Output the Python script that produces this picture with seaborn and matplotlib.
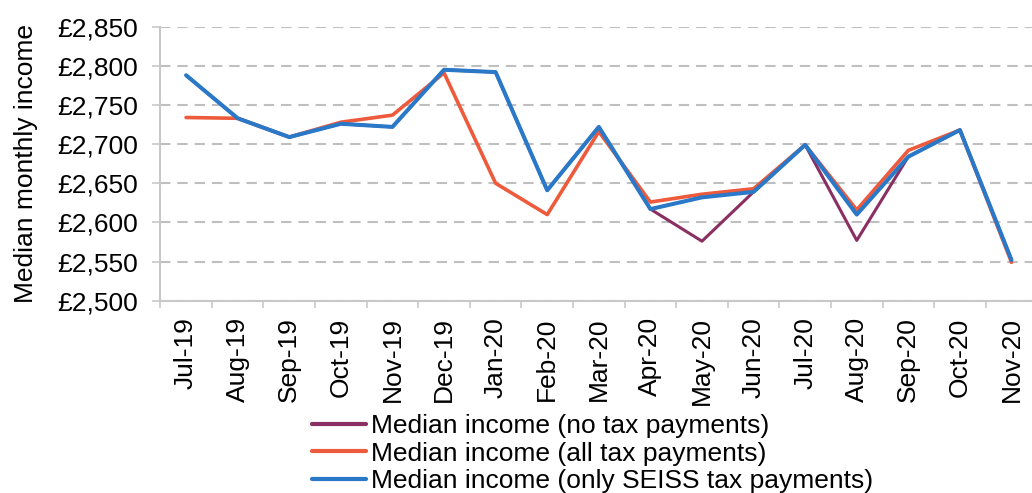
import pandas as pd
import matplotlib.pyplot as plt
import seaborn as sns
from matplotlib.ticker import FuncFormatter, FixedLocator

months = ["Jul-19", "Aug-19", "Sep-19", "Oct-19", "Nov-19", "Dec-19", "Jan-20",
          "Feb-20", "Mar-20", "Apr-20", "May-20", "Jun-20", "Jul-20", "Aug-20",
          "Sep-20", "Oct-20", "Nov-20"]

no_tax = [2788, 2733, 2709, 2726, 2722, 2795, 2792, 2641, 2722, 2617, 2576,
          2639, 2699, 2577, 2684, 2718, 2552]
all_tax = [2734, 2733, 2709, 2728, 2737, 2791, 2650, 2610, 2716, 2626, 2636,
           2643, 2699, 2616, 2692, 2718, 2549]
seiss_only = [2788, 2733, 2709, 2726, 2722, 2795, 2792, 2641, 2722, 2617, 2632,
              2639, 2699, 2610, 2684, 2718, 2552]

series = [
    ("Median income (no tax payments)", no_tax, "#8A2F62", 2.2),
    ("Median income (all tax payments)", all_tax, "#EE5A3C", 2.6),
    ("Median income (only SEISS tax payments)", seiss_only, "#2A78C8", 2.9),
]

sns.set_theme(style="white")
plt.rcParams["font.family"] = ["Liberation Sans", "DejaVu Sans"]
plt.rcParams["text.color"] = "black"
plt.rcParams["axes.labelcolor"] = "black"

fig = plt.figure(figsize=(10.32, 4.93), dpi=100)
ax = fig.add_axes([160.3 / 1032, 1 - 300.7 / 493, 877 / 1032, 274 / 493])

for name, vals, color, lw in series:
    df = pd.DataFrame({"month": months, "income": vals})
    sns.lineplot(data=df, x="month", y="income", color=color, linewidth=lw,
                 label=name, sort=False, ax=ax)

ax.set_ylim(2500, 2850)
ax.set_xlim(-0.5, len(months) - 0.5)
ax.set_yticks(range(2500, 2851, 50))
ax.yaxis.set_major_formatter(FuncFormatter(lambda v, p: f"£{v:,.0f}"))
ax.yaxis.grid(True, color="#BFBFBF", linestyle=(0, (5, 3.3)), linewidth=1.5)
ax.xaxis.grid(False)

ax.set_xticks(range(len(months)))
ax.set_xticklabels(months, rotation=90)
ax.xaxis.set_minor_locator(FixedLocator([i - 0.5 for i in range(len(months) + 1)]))
ax.tick_params(axis="x", which="major", length=0, pad=12, labelsize=19, colors="black")
ax.tick_params(axis="x", which="minor", length=5, width=1.2, color="#C8C8C8", bottom=True)
ax.tick_params(axis="y", length=6, width=1.2, color="#C8C8C8", pad=10,
               labelsize=19, labelcolor="black", left=True)

for s in ["top", "right"]:
    ax.spines[s].set_visible(False)
for s in ["left", "bottom"]:
    ax.spines[s].set_color("#C8C8C8")
    ax.spines[s].set_linewidth(1.5)

ax.set_xlabel("")
ax.set_ylabel("Median monthly income", fontsize=19, color="black", labelpad=14)

handles, labels = ax.get_legend_handles_labels()
ax.get_legend().remove()
leg = fig.legend(handles, labels, loc="upper left", bbox_to_anchor=(312 / 1032, 1 - 414 / 493),
                 frameon=False, fontsize=19, borderpad=0, borderaxespad=0,
                 handlelength=2.05, handletextpad=0.19, labelspacing=0.14)
for t in leg.get_texts():
    t.set_color("black")
for h in leg.legend_handles:
    h.set_linewidth(3.0)

fig.savefig("out.png", dpi=100)
